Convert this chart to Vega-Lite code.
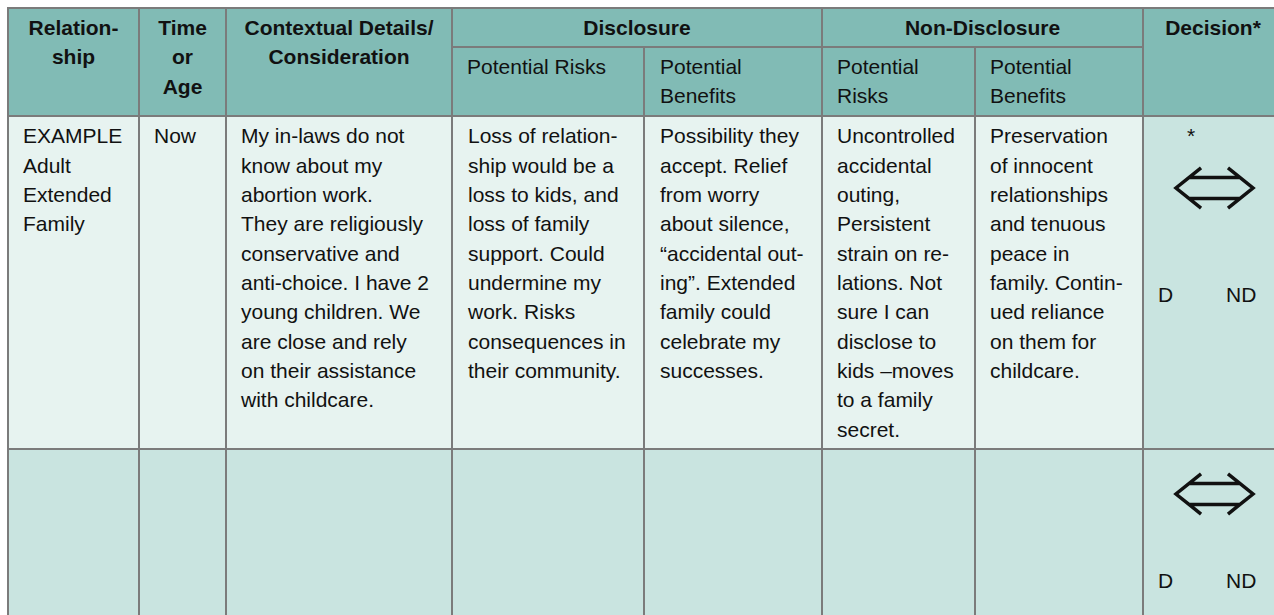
{
  "$schema": "https://vega.github.io/schema/vega-lite/v6.json",
  "width": 1274,
  "height": 615,
  "padding": 0,
  "autosize": {"type": "none"},
  "background": "white",
  "config": {"view": {"stroke": null}},
  "datasets": {
    "cells": [
      {"x0": 8, "x1": 139, "y0": 8, "y1": 116, "kind": "header"},
      {"x0": 139, "x1": 226, "y0": 8, "y1": 116, "kind": "header"},
      {"x0": 226, "x1": 452, "y0": 8, "y1": 116, "kind": "header"},
      {"x0": 452, "x1": 822, "y0": 8, "y1": 47, "kind": "header"},
      {"x0": 452, "x1": 644, "y0": 47, "y1": 116, "kind": "header"},
      {"x0": 644, "x1": 822, "y0": 47, "y1": 116, "kind": "header"},
      {"x0": 822, "x1": 1143, "y0": 8, "y1": 47, "kind": "header"},
      {"x0": 822, "x1": 975, "y0": 47, "y1": 116, "kind": "header"},
      {"x0": 975, "x1": 1143, "y0": 47, "y1": 116, "kind": "header"},
      {"x0": 1143, "x1": 1290, "y0": 8, "y1": 116, "kind": "header"},
      {"x0": 8, "x1": 139, "y0": 116, "y1": 449, "kind": "body"},
      {"x0": 139, "x1": 226, "y0": 116, "y1": 449, "kind": "body"},
      {"x0": 226, "x1": 452, "y0": 116, "y1": 449, "kind": "body"},
      {"x0": 452, "x1": 644, "y0": 116, "y1": 449, "kind": "body"},
      {"x0": 644, "x1": 822, "y0": 116, "y1": 449, "kind": "body"},
      {"x0": 822, "x1": 975, "y0": 116, "y1": 449, "kind": "body"},
      {"x0": 975, "x1": 1143, "y0": 116, "y1": 449, "kind": "body"},
      {"x0": 1143, "x1": 1290, "y0": 116, "y1": 449, "kind": "accent"},
      {"x0": 8, "x1": 139, "y0": 449, "y1": 640, "kind": "accent"},
      {"x0": 139, "x1": 226, "y0": 449, "y1": 640, "kind": "accent"},
      {"x0": 226, "x1": 452, "y0": 449, "y1": 640, "kind": "accent"},
      {"x0": 452, "x1": 644, "y0": 449, "y1": 640, "kind": "accent"},
      {"x0": 644, "x1": 822, "y0": 449, "y1": 640, "kind": "accent"},
      {"x0": 822, "x1": 975, "y0": 449, "y1": 640, "kind": "accent"},
      {"x0": 975, "x1": 1143, "y0": 449, "y1": 640, "kind": "accent"},
      {"x0": 1143, "x1": 1290, "y0": 449, "y1": 640, "kind": "accent"}
    ],
    "headers": [
      {"x": 73.5, "y": 35, "text": "Relation-\nship"},
      {"x": 182.5, "y": 35, "text": "Time\nor\nAge"},
      {"x": 339, "y": 35, "text": "Contextual Details/\nConsideration"},
      {"x": 637, "y": 35, "text": "Disclosure"},
      {"x": 982.5, "y": 35, "text": "Non-Disclosure"},
      {"x": 1213, "y": 35, "text": "Decision*"}
    ],
    "texts": [
      {"x": 467, "y": 74, "text": "Potential Risks"},
      {"x": 660, "y": 74, "text": "Potential\nBenefits"},
      {"x": 837, "y": 74, "text": "Potential\nRisks"},
      {"x": 990, "y": 74, "text": "Potential\nBenefits"},
      {"x": 23, "y": 143.3, "text": "EXAMPLE\nAdult\nExtended\nFamily"},
      {"x": 154, "y": 143.3, "text": "Now"},
      {"x": 241, "y": 143.3, "text": "My in-laws do not\nknow about my\nabortion work.\nThey are religiously\nconservative and\nanti-choice. I have 2\nyoung children. We\nare close and rely\non their assistance\nwith childcare."},
      {"x": 468, "y": 143.3, "text": "Loss of relation-\nship would be a\nloss to kids, and\nloss of family\nsupport. Could\nundermine my\nwork. Risks\nconsequences in\ntheir community."},
      {"x": 660, "y": 143.3, "text": "Possibility they\naccept. Relief\nfrom worry\nabout silence,\n“accidental out-\ning”. Extended\nfamily could\ncelebrate my\nsuccesses."},
      {"x": 837, "y": 143.3, "text": "Uncontrolled\naccidental\nouting,\nPersistent\nstrain on re-\nlations. Not\nsure I can\ndisclose to\nkids –moves\nto a family\nsecret."},
      {"x": 990, "y": 143.3, "text": "Preservation\nof innocent\nrelationships\nand tenuous\npeace in\nfamily. Contin-\nued reliance\non them for\nchildcare."},
      {"x": 1187, "y": 143.3, "text": "*"},
      {"x": 1158, "y": 302, "text": "D"},
      {"x": 1226, "y": 302, "text": "ND"},
      {"x": 1158, "y": 588, "text": "D"},
      {"x": 1226, "y": 588, "text": "ND"}
    ],
    "arrows": [
      {"x": 1214.5, "y": 188, "row": "example"},
      {"x": 1214.5, "y": 494, "row": "blank"}
    ]
  },
  "layer": [
    {
      "data": {"name": "cells"},
      "mark": {"type": "rect", "stroke": "#7b7b7b", "strokeWidth": 2, "clip": true},
      "encoding": {
        "x": {"field": "x0", "type": "quantitative", "scale": {"domain": [0, 1274], "nice": false, "zero": false}, "axis": null},
        "x2": {"field": "x1"},
        "y": {"field": "y0", "type": "quantitative", "scale": {"domain": [0, 615], "reverse": true, "nice": false, "zero": false}, "axis": null},
        "y2": {"field": "y1"},
        "fill": {"field": "kind", "type": "nominal", "scale": {"domain": ["header", "body", "accent"], "range": ["#81bbb5", "#e7f3f0", "#c9e4e0"]}, "legend": null}
      }
    },
    {
      "data": {"name": "headers"},
      "mark": {"type": "text", "align": "center", "baseline": "alphabetic", "lineBreak": "\n", "lineHeight": 29.33, "fontSize": 21, "fontWeight": "bold", "font": "Liberation Sans", "color": "#111111"},
      "encoding": {
        "x": {"field": "x", "type": "quantitative"},
        "y": {"field": "y", "type": "quantitative"},
        "text": {"field": "text", "type": "nominal"}
      }
    },
    {
      "data": {"name": "texts"},
      "mark": {"type": "text", "align": "left", "baseline": "alphabetic", "lineBreak": "\n", "lineHeight": 29.33, "fontSize": 21, "font": "Liberation Sans", "color": "#111111"},
      "encoding": {
        "x": {"field": "x", "type": "quantitative"},
        "y": {"field": "y", "type": "quantitative"},
        "text": {"field": "text", "type": "nominal"}
      }
    },
    {
      "data": {"name": "arrows"},
      "mark": {"type": "point", "shape": "M-0.35,-0.52L-1,0L-0.35,0.52M0.35,-0.52L1,0L0.35,0.52M-0.66,-0.27L0.66,-0.27M-0.66,0.27L0.66,0.27", "size": 5929, "filled": false, "stroke": "#111111", "strokeWidth": 3.5, "opacity": 1, "clip": true},
      "encoding": {
        "x": {"field": "x", "type": "quantitative"},
        "y": {"field": "y", "type": "quantitative"}
      }
    }
  ]
}
